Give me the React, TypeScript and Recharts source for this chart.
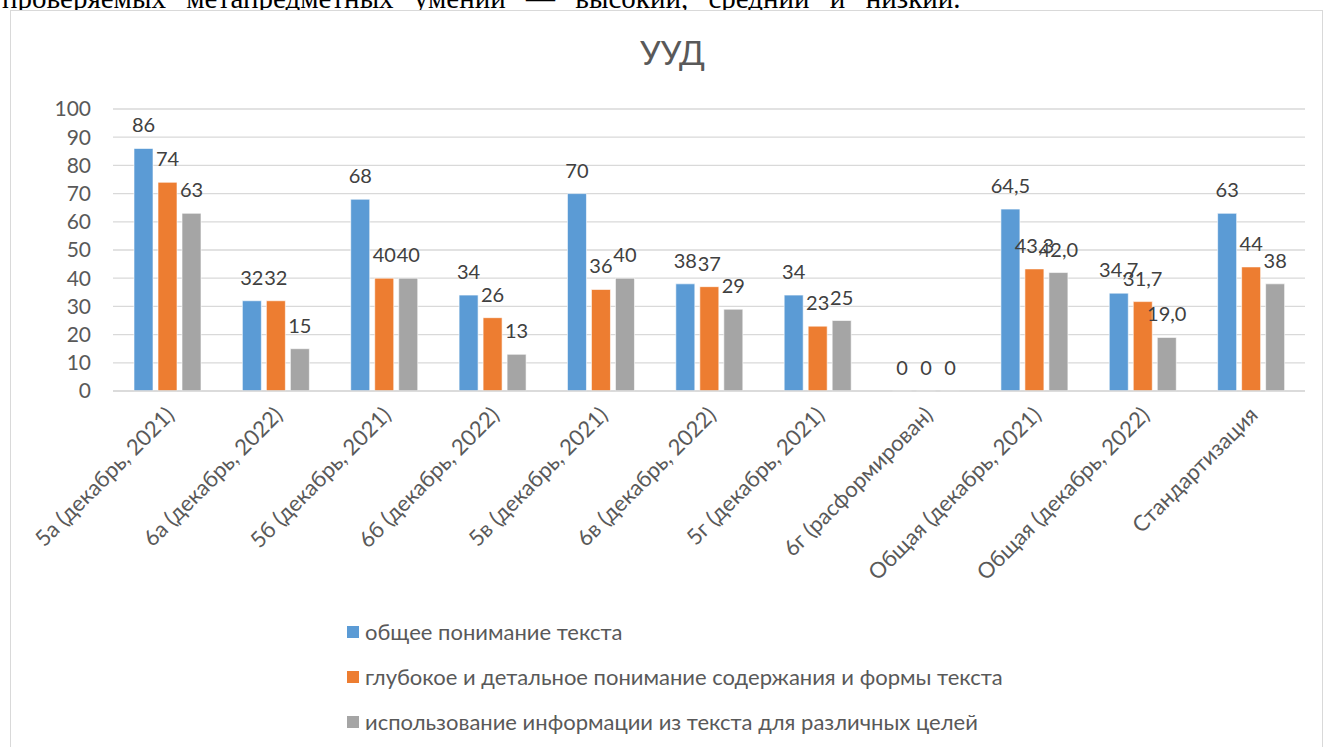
import React from 'react';
import { BarChart, Bar, XAxis, YAxis, CartesianGrid, LabelList } from 'recharts';

const categories = [
  '5а (декабрь, 2021)',
  '6а (декабрь, 2022)',
  '5б (декабрь, 2021)',
  '6б (декабрь, 2022)',
  '5в (декабрь, 2021)',
  '6в (декабрь, 2022)',
  '5г (декабрь, 2021)',
  '6г (расформирован)',
  'Общая (декабрь, 2021)',
  'Общая (декабрь, 2022)',
  'Стандартизация',
];
const general = [86, 32, 68, 34, 70, 38, 34, 0, 64.5, 34.7, 63];
const deep = [74, 32, 40, 26, 36, 37, 23, 0, 43.3, 31.7, 44];
const usage = [63, 15, 40, 13, 40, 29, 25, 0, 42.0, 19.0, 38];
const labelDecimals = [0, 0, 0, 0, 0, 0, 0, 0, 1, 1, 0];
const yTicks = [0, 10, 20, 30, 40, 50, 60, 70, 80, 90, 100];

const seriesKeys = ['general', 'deep', 'usage'];
const seriesNames = [
  'общее понимание текста',
  'глубокое и детальное понимание содержания и формы текста',
  'использование информации из текста для различных целей',
];
const colors = ['#5b9bd5', '#ed7d31', '#a5a5a5'];

const fmt = (v: number, d: number) => v.toFixed(d).replace('.', ',');

const data = categories.map((c, i) => ({
  name: c,
  general: general[i],
  deep: deep[i],
  usage: usage[i],
  generalLabel: fmt(general[i], labelDecimals[i]),
  deepLabel: fmt(deep[i], labelDecimals[i]),
  usageLabel: fmt(usage[i], labelDecimals[i]),
}));

const FONT = 'Lato, "Open Sans", sans-serif';

const XTick = (props: any) => {
  const { x, y, payload } = props;
  return (
    <g transform={`translate(${x + 3},${y + 20})`}>
      <text
        x={0}
        y={0}
        dy="0.35em"
        textAnchor="end"
        transform="rotate(-45)"
        fill="#595959"
        fontSize={22}
        fontFamily={FONT}
      >
        {payload.value}
      </text>
    </g>
  );
};

export default function App() {
  return (
    <div style={{ position: 'absolute', left: 0, top: 0, width: 1324, height: 747, overflow: 'hidden', background: '#fff' }}>
      <div
        style={{
          position: 'absolute',
          left: 2,
          top: -16,
          fontFamily: '"Liberation Serif", "Times New Roman", serif',
          fontSize: 29,
          lineHeight: '29px',
          wordSpacing: 13,
          whiteSpace: 'nowrap',
          color: '#000',
        }}
      >
        проверяемых метапредметных умений — высокий, средний и низкий.
      </div>
      <div
        style={{
          position: 'absolute',
          left: 10,
          top: 10,
          width: 1313,
          height: 745,
          borderLeft: '1px solid #d9d9d9',
          borderTop: '1px solid #d9d9d9',
          borderRight: '1px solid #d9d9d9',
          boxSizing: 'border-box',
          background: '#fff',
        }}
      >
        <div
          style={{
            position: 'absolute',
            left: 0,
            right: 0,
            top: 25,
            textAlign: 'center',
            fontFamily: FONT,
            fontSize: 33,
            lineHeight: '33px',
            color: '#595959',
            paddingLeft: 12,
          }}
        >
          УУД
        </div>
        <BarChart
          width={1311}
          height={736}
          data={data}
          margin={{ top: 98, right: 17, bottom: 156, left: 0 }}
          barSize={19}
          barGap={5}
        >
          <CartesianGrid vertical={false} stroke="#d9d9d9" strokeWidth={1.3} />
          <XAxis
            dataKey="name"
            interval={0}
            tickLine={false}
            tickSize={0}
            tickMargin={0}
            axisLine={{ stroke: '#d9d9d9', strokeWidth: 1.3 }}
            height={200}
            tick={<XTick />}
          />
          <YAxis
            domain={[0, 100]}
            ticks={yTicks}
            interval={0}
            width={102}
            axisLine={false}
            tickLine={false}
            tickSize={0}
            tickMargin={22}
            tick={{ fill: '#595959', fontSize: 21, fontFamily: FONT, style: { fontVariantNumeric: 'tabular-nums' } }}
          />
          {seriesKeys.map((k, i) => (
            <Bar
              key={k}
              dataKey={k}
              name={seriesNames[i]}
              fill={colors[i]}
              stroke="#fff"
              strokeWidth={0.6}
              minPointSize={0.01}
              isAnimationActive={false}
            >
              <LabelList dataKey={`${k}Label`} position="top" offset={16} fill="#404040" fontSize={20} fontFamily={FONT} />
            </Bar>
          ))}
        </BarChart>
        <div style={{ position: 'absolute', left: 336, top: 598, fontFamily: FONT }}>
          {seriesNames.map((n, i) => (
            <div key={n} style={{ height: 45, display: 'flex', alignItems: 'center' }}>
              <span style={{ display: 'inline-block', width: 12, height: 12, background: colors[i], marginRight: 6 }} />
              <span style={{ fontSize: 22, color: '#595959', whiteSpace: 'nowrap' }}>{n}</span>
            </div>
          ))}
        </div>
      </div>
    </div>
  );
}
